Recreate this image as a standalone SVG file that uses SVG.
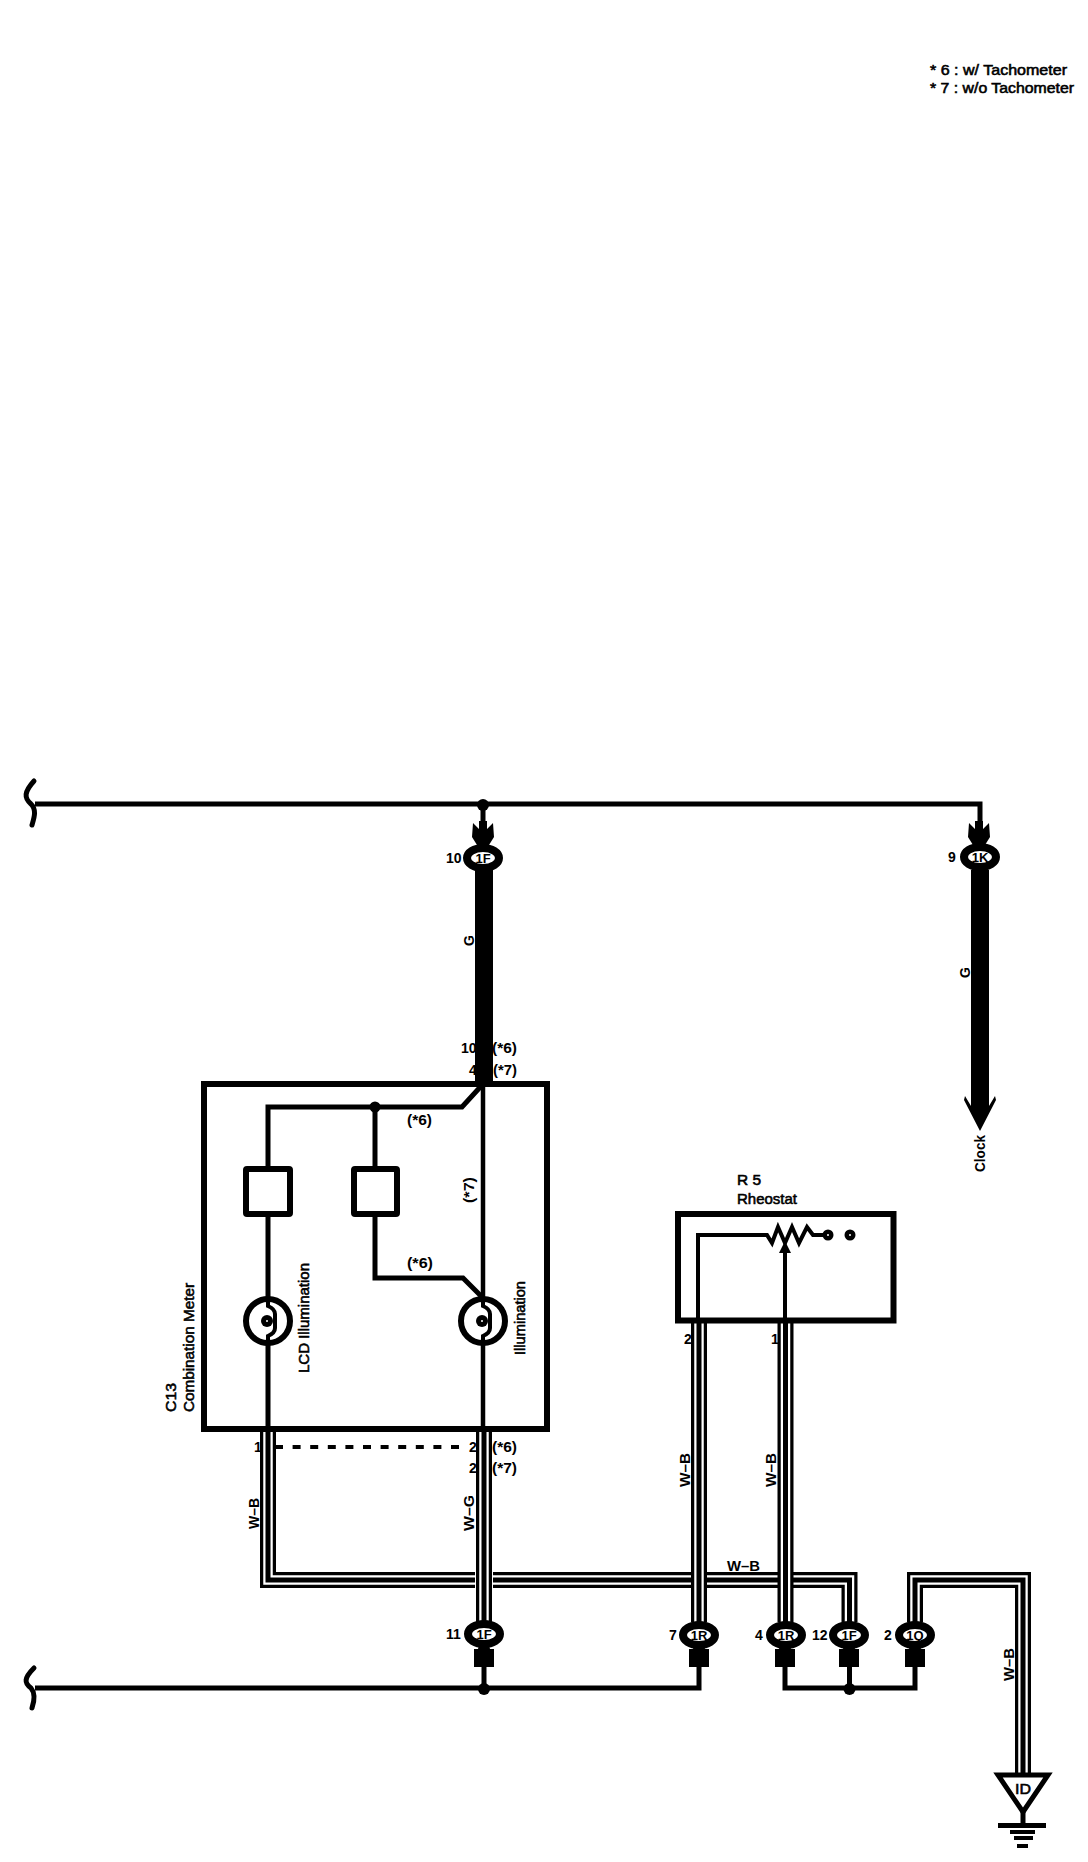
<svg xmlns="http://www.w3.org/2000/svg" width="1088" height="1862" viewBox="0 0 1088 1862">
<style>
text{font-family:"Liberation Sans",Arial,sans-serif;font-size:14px;fill:#000;stroke:#000;stroke-width:.55}
.c{text-anchor:middle;font-weight:bold;font-size:13px;stroke:none}
.n{font-weight:bold;stroke:none}
.w{fill:none;stroke:#000;stroke-width:5;stroke-linejoin:miter}
.t1{fill:none;stroke:#000;stroke-width:16}
.t2{fill:none;stroke:#fff;stroke-width:9.5}
.t3{fill:none;stroke:#000;stroke-width:5}
.box{fill:none;stroke:#000;stroke-width:6}
.con{fill:#fff;stroke:#000;stroke-width:8}
</style>
<defs>
<path id="chevD" d="M-10 -20 L-4 -14 V-22 H4 V-14 L10 -20 L11 -6 L6 2 H-6 L-11 -6Z"/>
<path id="chevU" d="M-5 -3 H5 L6 1 H10 V19 H-10 V1 H-6Z"/>
<g id="lamp"><circle r="22" fill="#fff" stroke="#000" stroke-width="6"/><path d="M0 -25 V-15 Q7 -12 7 -7 V7 Q7 12 0 15 V25" class="w" style="stroke-width:4"/><circle r="6" cx="-1" fill="#000"/><circle r="1" cx="-1" fill="#fff"/></g>
</defs>

<g id="connectors">
<path class="w" d="M35 804 H980 V825"/>
<path class="w" d="M34 781 C24 792 24 798 31 804 C37 810 34 818 32 825" stroke-linecap="round"/>
<path class="w" d="M34 1668 C24 1678 24 1683 31 1688 C36 1694 34 1702 32 1708" stroke-linecap="round"/>
<path class="w" d="M35 1688 H699 V1667"/>
<path class="w" d="M785 1667 V1688 H915 V1667"/>
<path class="w" d="M483 804 V830"/>
<path class="w" d="M484 1667 V1688"/>
<path class="w" d="M849.500 1667 V1688"/>
<rect x="475" y="870" width="18" height="214"/>
<rect x="971" y="870" width="18" height="236"/>
<path d="M971 1106 L965 1096 L964 1100 L980 1131 L996 1100 L995 1096 L989 1106Z"/>

<path class="t1" d="M268 1432 V1580 H849.500 V1622"/>
<path class="t2" d="M268 1432 V1580 H849.500 V1622"/>
<path class="t3" d="M268 1432 V1580 H849.500 V1622"/>
<path d="M484 1560 V1600" fill="none" stroke="#fff" stroke-width="18"/>
<path class="t1" d="M484 1432 V1622"/><path class="t2" d="M484 1432 V1622"/><path class="t3" d="M484 1432 V1622"/>
<path class="t1" d="M699 1323 V1622"/><path class="t2" d="M699 1323 V1622"/><path class="t3" d="M699 1323 V1622"/>
<path class="t1" d="M785.500 1323 V1622"/><path class="t2" d="M785.500 1323 V1622"/><path class="t3" d="M785.500 1323 V1622"/>
<path class="t1" d="M915 1622 V1580 H1023 V1776"/><path class="t2" d="M915 1622 V1580 H1023 V1776"/><path class="t3" d="M915 1622 V1580 H1023 V1776"/>

<path d="M275 1447 H459" fill="none" stroke="#000" stroke-width="4" stroke-dasharray="8 9.600"/>
<circle cx="483" cy="805" r="6"/>
<circle cx="484" cy="1689" r="6"/>
<circle cx="849.500" cy="1689" r="6"/>
</g>

<g id="combination-meter">
<rect class="box" x="204" y="1084" width="343" height="345"/>
<path class="w" d="M268 1169 V1107 H462 L483 1084"/>
<path class="w" d="M375 1107 V1169"/>
<circle cx="375" cy="1107" r="5.500"/>
<path class="w" d="M268 1214 V1429"/>
<path class="w" d="M375 1214 V1278 H463 L483 1298"/>
<path class="w" d="M483 1084 V1429" style="stroke-width:4.500"/>
<rect class="box" x="246" y="1169" width="44" height="45" rx="1" fill="#fff"/>
<rect class="box" x="354" y="1169" width="43" height="45" rx="1" fill="#fff"/>
<use href="#lamp" x="268" y="1321"/>
<use href="#lamp" x="483" y="1321"/>
<text transform="translate(176,1412) rotate(-90)" textLength="29" lengthAdjust="spacingAndGlyphs">C13</text>
<text transform="translate(194,1412) rotate(-90)" textLength="129" lengthAdjust="spacingAndGlyphs">Combination Meter</text>
<text transform="translate(309,1373) rotate(-90)" textLength="110" lengthAdjust="spacingAndGlyphs">LCD Illumination</text>
<text transform="translate(525,1355) rotate(-90)" textLength="74" lengthAdjust="spacingAndGlyphs">Illumination</text>
<text class="n" x="407" y="1125" textLength="25" lengthAdjust="spacingAndGlyphs">(*6)</text>
<text class="n" x="407" y="1268" textLength="26" lengthAdjust="spacingAndGlyphs">(*6)</text>
<text class="n" transform="translate(474,1203) rotate(-90)" textLength="26" lengthAdjust="spacingAndGlyphs">(*7)</text>
<text class="n" x="461" y="1053">10</text>
<text class="n" x="492" y="1053" textLength="25" lengthAdjust="spacingAndGlyphs">(*6)</text>
<text class="n" x="469" y="1075">4</text>
<text class="n" x="493" y="1075" textLength="24" lengthAdjust="spacingAndGlyphs">(*7)</text>
<text class="n" x="254" y="1452">1</text>
<text class="n" x="469" y="1452">2</text>
<text class="n" x="492" y="1452" textLength="25" lengthAdjust="spacingAndGlyphs">(*6)</text>
<text class="n" x="469" y="1473">2</text>
<text class="n" x="492" y="1473" textLength="25" lengthAdjust="spacingAndGlyphs">(*7)</text>
</g>

<g id="rheostat">
<rect class="box" x="678" y="1214" width="215.500" height="106.500"/>
<path class="w" d="M698 1320 V1235 H767 L772 1243 L778 1227 L785 1243 L792 1227 L799 1243 L807 1227 L813 1235 H828" style="stroke-width:4"/>
<path class="w" d="M785 1320 V1250" style="stroke-width:4"/>
<path d="M785 1241 L791 1253 H779Z"/>
<circle cx="828" cy="1235" r="5.500"/><circle cx="828" cy="1235" r="1" fill="#fff"/>
<circle cx="850" cy="1235" r="5.500"/><circle cx="850" cy="1235" r="1" fill="#fff"/>
<text x="737" y="1185" textLength="24" lengthAdjust="spacingAndGlyphs">R 5</text>
<text x="737" y="1204" textLength="60" lengthAdjust="spacingAndGlyphs">Rheostat</text>
<text class="n" x="684" y="1344">2</text>
<text class="n" x="771" y="1344">1</text>
</g>

<g id="conn-1F-10"><use href="#chevD" x="483" y="843"/><ellipse class="con" cx="483" cy="858" rx="16" ry="10"/><text class="c" x="483" y="863">1F</text><text class="n" x="446" y="863">10</text></g>
<g id="conn-1K-9"><use href="#chevD" x="979" y="843"/><ellipse class="con" cx="980" cy="857" rx="16" ry="10"/><text class="c" x="980" y="862">1K</text><text class="n" x="948" y="862">9</text></g>
<g id="conn-1F-11"><use href="#chevU" x="484" y="1648"/><ellipse class="con" cx="484" cy="1634" rx="16" ry="10"/><text class="c" x="484" y="1639">1F</text><text class="n" x="446" y="1639">11</text></g>
<g id="conn-1R-7"><use href="#chevU" x="699" y="1648"/><ellipse class="con" cx="699" cy="1635" rx="16" ry="10"/><text class="c" x="699" y="1640">1R</text><text class="n" x="669" y="1640">7</text></g>
<g id="conn-1R-4"><use href="#chevU" x="785" y="1648"/><ellipse class="con" cx="786" cy="1635" rx="16" ry="10"/><text class="c" x="786" y="1640">1R</text><text class="n" x="755" y="1640">4</text></g>
<g id="conn-1F-12"><use href="#chevU" x="849" y="1648"/><ellipse class="con" cx="849" cy="1635" rx="16" ry="10"/><text class="c" x="849" y="1640">1F</text><text class="n" x="812" y="1640">12</text></g>
<g id="conn-1Q-2"><use href="#chevU" x="915" y="1648"/><ellipse class="con" cx="915" cy="1635" rx="16" ry="10"/><text class="c" x="915" y="1640">1Q</text><text class="n" x="884" y="1640">2</text></g>

<g id="ground-ID">
<path d="M998 1775 H1048 L1023 1812Z" fill="#fff" stroke="#000" stroke-width="5"/>
<path class="w" d="M1023 1810 V1825"/>
<rect x="998" y="1823" width="48" height="5"/>
<rect x="1010" y="1830" width="25" height="4"/>
<rect x="1014" y="1836" width="19" height="4"/>
<rect x="1017" y="1844" width="11" height="4"/>
<text x="1015" y="1794" textLength="16" lengthAdjust="spacingAndGlyphs">ID</text>
</g>

<g id="wire-labels">
<text class="n" transform="translate(474,946) rotate(-90)">G</text>
<text class="n" transform="translate(970,978) rotate(-90)">G</text>
<text class="n" transform="translate(985,1172) rotate(-90)" textLength="37" lengthAdjust="spacingAndGlyphs">Clock</text>
<text class="n" transform="translate(259,1529) rotate(-90)" textLength="31" lengthAdjust="spacingAndGlyphs">W–B</text>
<text class="n" transform="translate(474,1531) rotate(-90)" textLength="36" lengthAdjust="spacingAndGlyphs">W–G</text>
<text class="n" transform="translate(690,1487) rotate(-90)" textLength="34" lengthAdjust="spacingAndGlyphs">W–B</text>
<text class="n" transform="translate(776,1487) rotate(-90)" textLength="34" lengthAdjust="spacingAndGlyphs">W–B</text>
<text class="n" transform="translate(1014,1681) rotate(-90)" textLength="33" lengthAdjust="spacingAndGlyphs">W–B</text>
<text class="n" x="727" y="1571" textLength="33" lengthAdjust="spacingAndGlyphs">W–B</text>
</g>

<g id="legend">
<text x="930" y="75" textLength="137" lengthAdjust="spacingAndGlyphs">* 6 : w/ Tachometer</text>
<text x="930" y="93" textLength="144" lengthAdjust="spacingAndGlyphs">* 7 : w/o Tachometer</text>
</g>
</svg>
